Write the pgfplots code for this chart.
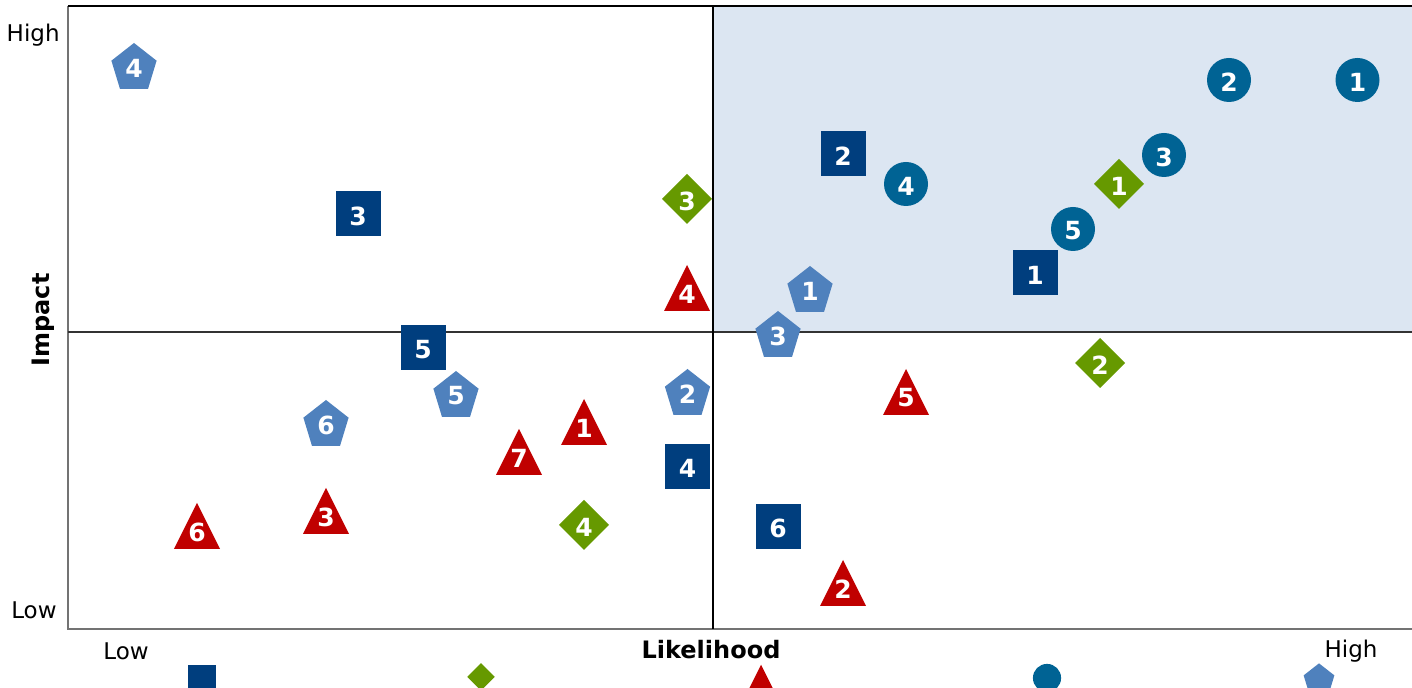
\documentclass[border=0pt]{standalone}
\usepackage{pgfplots}
\pgfplotsset{compat=1.18}
\usepackage{fontspec}
\setmainfont{DejaVu Sans}
\definecolor{cSq}{HTML}{003E7E}
\definecolor{cDia}{HTML}{669900}
\definecolor{cTri}{HTML}{C00000}
\definecolor{cCir}{HTML}{006394}
\definecolor{cPen}{HTML}{4F81BD}
\definecolor{cShade}{HTML}{DCE6F2}
\pgfdeclareplotmark{mysq}{\pgfpathrectangle{\pgfqpoint{-11.25pt}{-11.25pt}}{\pgfqpoint{22.5pt}{22.5pt}}\pgfusepathqfill}
\pgfdeclareplotmark{mydia}{\pgfpathmoveto{\pgfqpoint{0pt}{12.5pt}}\pgfpathlineto{\pgfqpoint{12.5pt}{0pt}}\pgfpathlineto{\pgfqpoint{0pt}{-12.5pt}}\pgfpathlineto{\pgfqpoint{-12.5pt}{0pt}}\pgfpathclose\pgfusepathqfill}
\pgfdeclareplotmark{mytri}{\pgfpathmoveto{\pgfqpoint{0pt}{11.5pt}}\pgfpathlineto{\pgfqpoint{11.5pt}{-11.5pt}}\pgfpathlineto{\pgfqpoint{-11.5pt}{-11.5pt}}\pgfpathclose\pgfusepathqfill}
\pgfdeclareplotmark{mycirc}{\pgfpathcircle{\pgfpointorigin}{11pt}\pgfusepathqfill}
\pgfdeclareplotmark{mypent}{\pgfpathmoveto{\pgfqpoint{0pt}{11.5pt}}\pgfpathlineto{\pgfqpoint{11.3pt}{2.65pt}}\pgfpathlineto{\pgfqpoint{7pt}{-11.5pt}}\pgfpathlineto{\pgfqpoint{-7pt}{-11.5pt}}\pgfpathlineto{\pgfqpoint{-11.3pt}{2.65pt}}\pgfpathclose\pgfusepathqfill}
\pgfplotstableread{
x y lab
1035 415 1
843 534 2
358 474 3
687.5 221.5 4
423 340 5
778 161.5 6
}\sqdata
\pgfplotstableread{
x y lab
1119 504 1
1100 325 2
687 489 3
584 163 4
}\diadata
\pgfplotstableread{
x y lab
584 266 1
843 105 2
326 177 3
687 400 4
906 296 5
197 162 6
519 236 7
}\tridata
\pgfplotstableread{
x y lab
1357.5 608 1
1229 608 2
1164 533 3
906 504 4
1073 459 5
}\cirdata
\pgfplotstableread{
x y lab
810 399 1
687.5 296 2
778 354 3
134 622 4
456 294 5
326 265 6
}\pendata
\begin{document}
\begin{tikzpicture}
\begin{axis}[
  scale only axis, width=672pt, height=311.5pt,
  xmin=68, xmax=1412, ymin=59, ymax=682,
  hide axis, clip=false,
  every node near coord/.append style={anchor=center, yshift=-1pt, inner sep=0pt, text=white, font=\bfseries\fontsize{12.5}{12.5}\selectfont},
]
\fill[cShade] (axis cs:713,356) rectangle (axis cs:1412,682);
\draw[gray!90!black, line width=0.7pt] (axis cs:68,682) -- (axis cs:68,59) -- (axis cs:1412,59);
\draw[black, line width=0.6pt] (axis cs:68,682) -- (axis cs:1412,682);
\draw[black!80, line width=0.7pt] (axis cs:68,356) -- (axis cs:1412,356);
\draw[black, line width=0.6pt] (axis cs:713,59) -- (axis cs:713,682);
\addplot[only marks, mark=mysq, color=cSq, nodes near coords, point meta=explicit symbolic] table[x=x, y=y, meta=lab] {\sqdata};
\addplot[only marks, mark=mydia, color=cDia, nodes near coords, point meta=explicit symbolic] table[x=x, y=y, meta=lab] {\diadata};
\addplot[only marks, mark=mytri, color=cTri, nodes near coords, point meta=explicit symbolic, every node near coord/.append style={yshift=-2pt}] table[x=x, y=y, meta=lab] {\tridata};
\addplot[only marks, mark=mycirc, color=cCir, nodes near coords, point meta=explicit symbolic] table[x=x, y=y, meta=lab] {\cirdata};
\addplot[only marks, mark=mypent, color=cPen, nodes near coords, point meta=explicit symbolic] table[x=x, y=y, meta=lab] {\pendata};
% legend row (cut off at the bottom)
\addplot[only marks, mark=mysq, color=cSq, mark options={scale=0.62}] coordinates {(202,9)};
\addplot[only marks, mark=mydia, color=cDia, mark options={scale=0.55}] coordinates {(481,11)};
\addplot[only marks, mark=mytri, color=cTri, mark options={scale=0.75}] coordinates {(761,6)};
\addplot[only marks, mark=mycirc, color=cCir, mark options={scale=0.64}] coordinates {(1047,10)};
\addplot[only marks, mark=mypent, color=cPen, mark options={scale=0.68}] coordinates {(1319,9)};
\node[anchor=east, font=\fontsize{11.5}{12}\selectfont, inner sep=0pt] at (axis cs:60,653) {High};
\node[anchor=east, font=\fontsize{11.5}{12}\selectfont, inner sep=0pt] at (axis cs:57,78) {Low};
\node[font=\fontsize{11.5}{12}\selectfont, inner sep=0pt] at (axis cs:126,37) {Low};
\node[font=\fontsize{11.5}{12}\selectfont, inner sep=0pt] at (axis cs:1351,37) {High};
\node[font=\bfseries\fontsize{12}{14}\selectfont, inner sep=0pt] at (axis cs:711,38) {Likelihood};
\node[font=\bfseries\fontsize{12}{14}\selectfont, inner sep=0pt, rotate=90] at (axis cs:43,368) {Impact};
\coordinate (bl) at (axis cs:0,0);
\coordinate (tr) at (axis cs:1412,688);
\end{axis}
\pgfresetboundingbox
\useasboundingbox (bl) rectangle (tr);
\end{tikzpicture}
\end{document}
